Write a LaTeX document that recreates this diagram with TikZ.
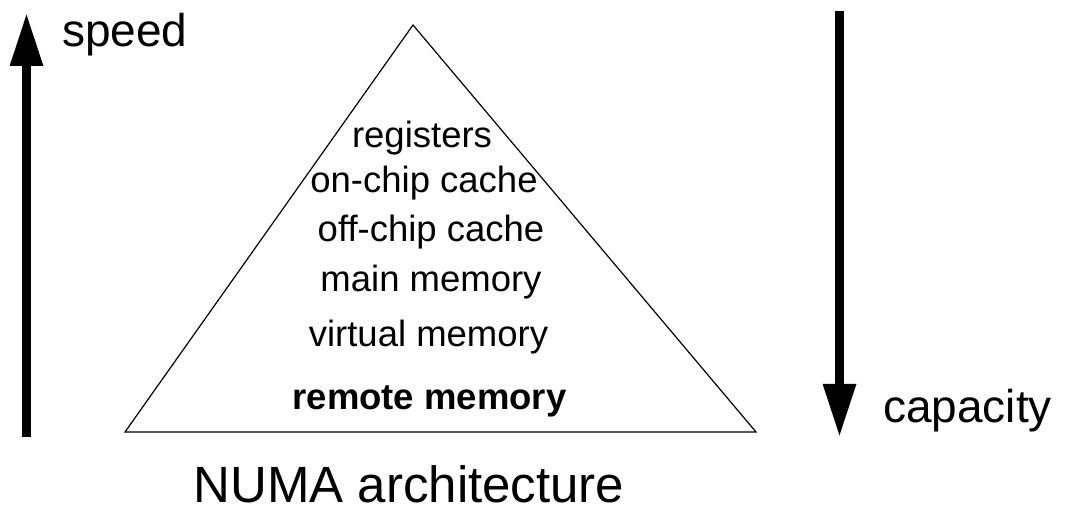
\documentclass[tikz,border=0pt]{standalone}
\usepackage{fontspec}
\setmainfont{Liberation Sans}
\usetikzlibrary{arrows.meta}
\begin{document}
\begin{tikzpicture}[x=1pt,y=-1pt,
  level/.style={anchor=base,inner sep=0pt,font=\fontsize{36.5}{40}\selectfont},
  side/.style={anchor=base west,inner sep=0pt,font=\fontsize{46}{50}\selectfont},
  bigarrow/.style={line width=9pt,-{Triangle[length=53pt,width=31pt]}},
  pyramid/.style={draw,line width=1.2pt,line join=miter}]
\useasboundingbox (0,0) rectangle (1066,510);

% memory pyramid
\coordinate (apex) at (413,25);
\coordinate (bl) at (125,432);
\coordinate (br) at (756,432);
\draw[pyramid] (apex) -- (bl) -- (br) -- cycle;

% hierarchy levels
\node[level] (reg) at (422,148) {registers};
\node[level] (onc) at (424,193) {on-chip cache};
\node[level] (offc) at (431,242) {off-chip cache};
\node[level] (mainm) at (431,292) {main memory};
\node[level] (virt) at (428.5,347) {virtual memory};
\node[level,font=\fontsize{36.5}{40}\selectfont\bfseries] (remote) at (429.5,410) {remote memory};

% speed axis
\coordinate (sb) at (26.5,437);
\coordinate (st) at (26.5,13);
\draw[bigarrow] (sb) -- (st);
\node[side] (speed) at (62,47) {speed};

% capacity axis
\coordinate (ct) at (839.5,11);
\coordinate (cb) at (839.5,437);
\draw[bigarrow] (ct) -- (cb);
\node[side] (cap) at (883,423) {capacity};

% caption
\node[anchor=base,inner sep=0pt,font=\fontsize{51}{55}\selectfont] (title) at (409,502) {NUMA architecture};
\end{tikzpicture}
\end{document}
